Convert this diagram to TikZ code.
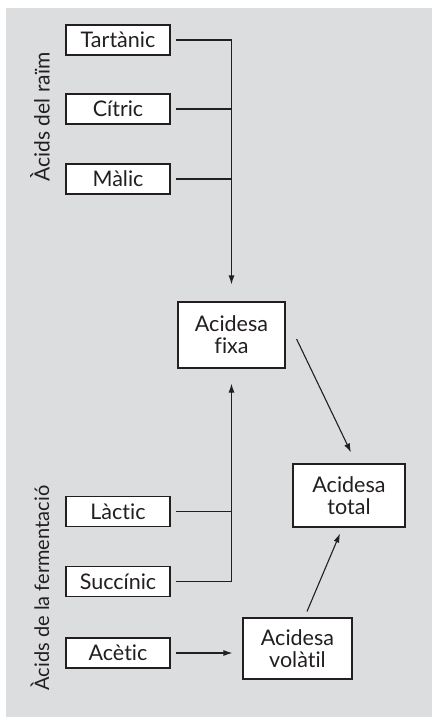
\documentclass[tikz,border=0pt]{standalone}
\usepackage{fontspec}
\setmainfont{Lato}[Ligatures=NoCommon]
\usetikzlibrary{arrows.meta}
\definecolor{bgc}{HTML}{DCDDDF}
\definecolor{ink}{HTML}{231F20}
\begin{document}
\begin{tikzpicture}[x=1pt,y=-1pt,
  box/.style={draw=ink, fill=white, line width=1.1pt, inner sep=0pt, align=center,
    text=ink, font=\fontsize{21.5}{22}\selectfont},
  small/.style={box, minimum width=104pt, minimum height=30pt},
  big/.style={box, minimum width=108pt, minimum height=63pt},
  conn/.style={draw=ink, line width=1.1pt},
  arr/.style={conn, -{Latex[length=9pt,width=6pt]}},
  grp/.style={rotate=90, text=ink, font=\fontsize{21}{22}\selectfont, inner sep=0pt}]
\useasboundingbox (0,0) rectangle (433,718);
\fill[bgc] (6,8) rectangle (432,717);

\node[small] (tart) at (118,40) {Tartànic};
\node[small] (citric) at (118,109) {Cítric};
\node[small] (malic) at (118,179) {Màlic};
\node[small] (lactic) at (118,511.5) {Làctic};
\node[small] (succ) at (118,581.5) {Succínic};
\node[small] (acetic) at (118,653) {Acètic};

\node[big, minimum width=107pt, minimum height=66pt] (fixa) at (231.5,335) {Acidesa\\fixa};
\node[big, minimum width=112pt, minimum height=63pt] (total) at (349,495.5) {Acidesa\\total};
\node[big, minimum width=109pt, minimum height=61pt] (volatil) at (297.5,648.5) {Acidesa\\volàtil};

\node[grp] (raim) at (40,117) {Àcids del raïm};
\node[grp, font=\fontsize{20}{22}\selectfont] (ferm) at (40,588) {Àcids de la fermentació};

\draw[arr] ([xshift=5pt]tart.east) -| ([yshift=17pt]fixa.north);
\draw[conn] ([xshift=5pt]citric.east) -- (citric.east -| fixa.north);
\draw[conn] ([xshift=5pt]malic.east) -- (malic.east -| fixa.north);

\draw[arr] ([xshift=5pt]succ.east) -| ([yshift=-15pt]fixa.south);
\draw[conn] ([xshift=5pt]lactic.east) -- (lactic.east -| fixa.south);

\draw[arr] ([xshift=5pt]acetic.east) -- ([xshift=-10pt]acetic.east -| volatil.west);

\draw[arr] ([xshift=11pt,yshift=-4pt]fixa.east) -- ([xshift=2pt,yshift=11pt]total.north);
\draw[arr] ([xshift=9.5pt,yshift=6pt]volatil.north) -- ([xshift=-9pt,yshift=-6pt]total.south);
\end{tikzpicture}
\end{document}
